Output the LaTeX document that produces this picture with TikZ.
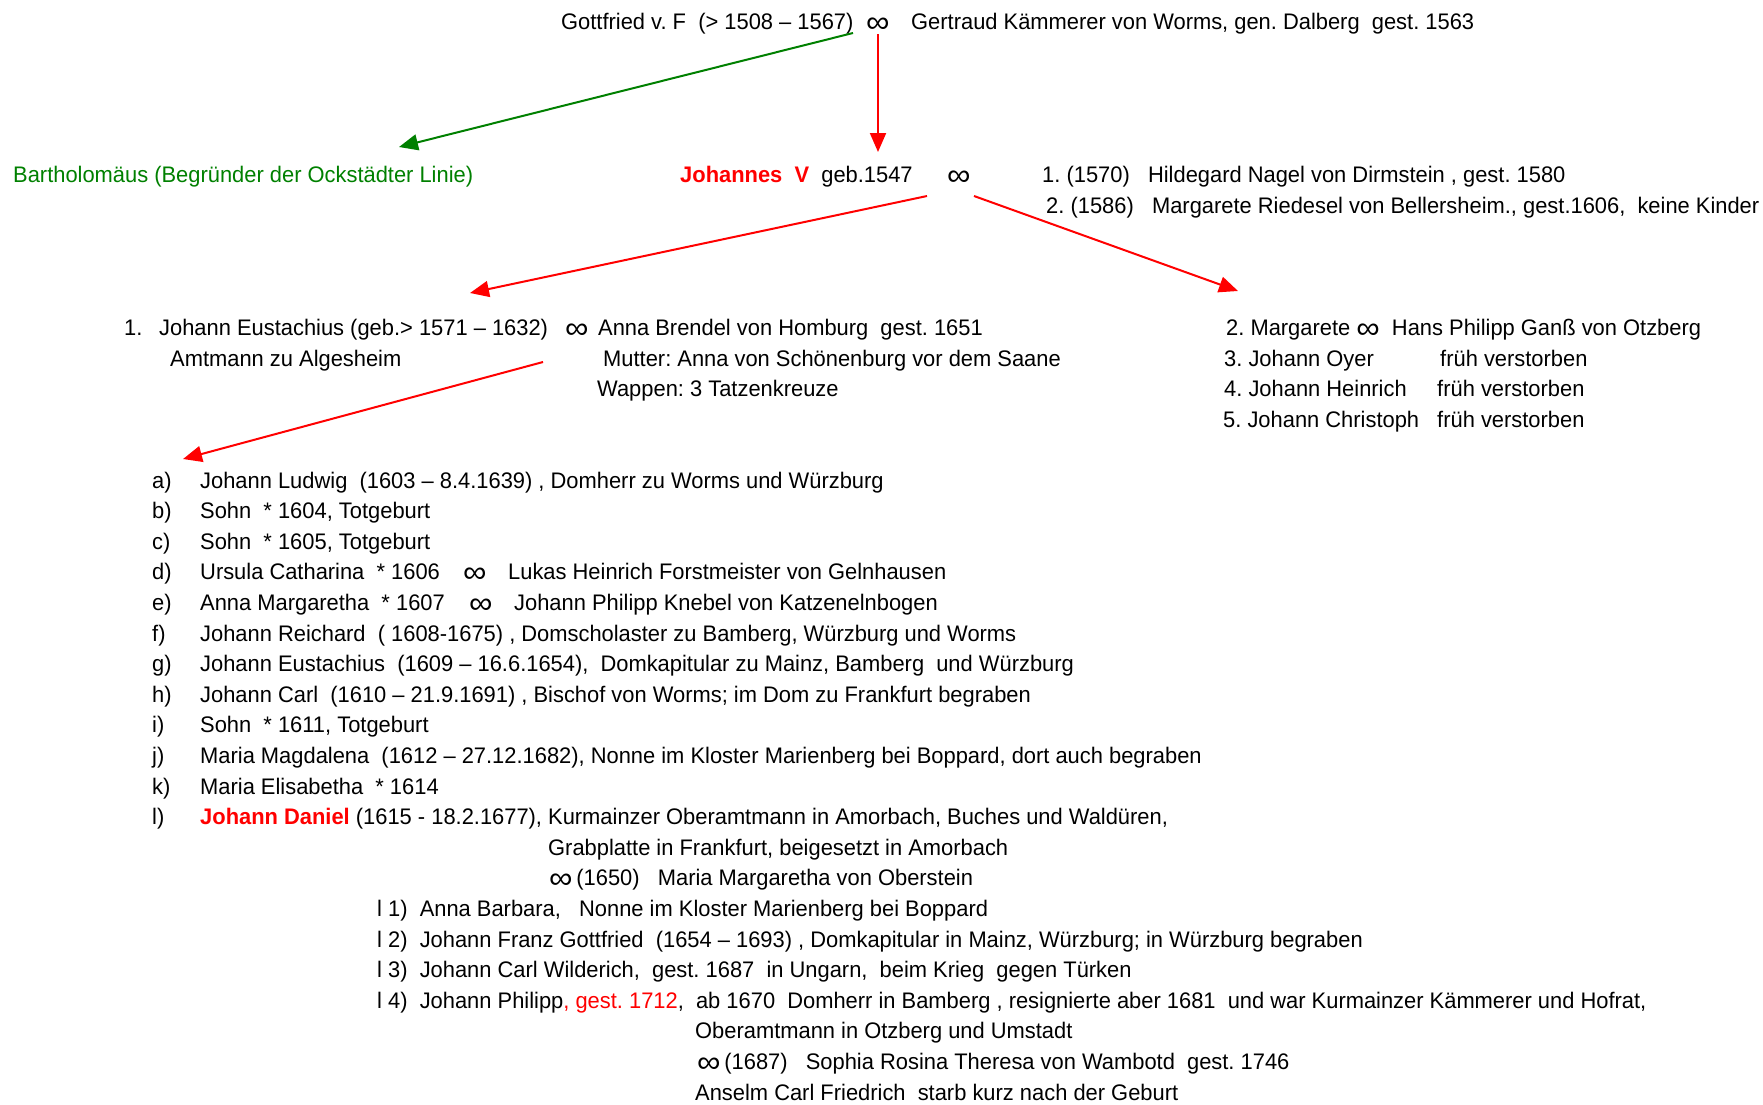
\documentclass[tikz,border=0pt]{standalone}
\usepackage{fontspec}
\usepackage{graphicx}
\setmainfont{Liberation Sans}[FakeStretch=0.973]
\usetikzlibrary{arrows.meta}
\definecolor{gr}{RGB}{0,128,0}
\definecolor{rd}{RGB}{255,0,0}
\newcommand{\inff}{\raisebox{-3pt}{\scalebox{1.5}[1.35]{∞}}}
\begin{document}
\frenchspacing
\begin{tikzpicture}[x=1pt,y=-1pt,
  txt/.style={anchor=base west,inner sep=0pt,font=\fontsize{22.5}{26}\selectfont},
  arr/.style={line width=2pt,-{Triangle[length=19pt,width=16pt]}},
  redarr/.style={arr,draw=rd,fill=rd},
  grarr/.style={arr,draw=gr,fill=gr}]
\useasboundingbox (0,0) rectangle (1763,1104);
% row 1
\node[txt] (g1) at (561,29) {Gottfried v. F\ \ (> 1508 – 1567)};
\node[txt] (g2) at (866,29) {\inff};
\node[txt] (g3) at (911,29) {Gertraud Kämmerer von Worms, gen. Dalberg\ \ gest. 1563};
% row 2
\node[txt,text=gr] (bart) at (13,182) {Bartholomäus (Begründer der Ockstädter Linie)};
\node[txt] (joh) at (680,182) {{\color{rd}\bfseries Johannes\ \ V}\ \ geb.1547};
\node[txt] (inf2) at (947,182) {\inff};
\node[txt] (w1) at (1042,182) {1. (1570)\ \ \ Hildegard Nagel von Dirmstein , gest. 1580};
\node[txt] (w2) at (1046,213) {2. (1586)\ \ \ Margarete Riedesel von Bellersheim., gest.1606,\ \ keine Kinder};
% row 3
\node[txt] (je1) at (124,335) {1.};
\node[txt] (je2) at (159,335) {Johann Eustachius (geb.> 1571 – 1632)};
\node[txt] (inf3) at (565,335) {\inff};
\node[txt] (ab) at (598,335) {Anna Brendel von Homburg\ \ gest. 1651};
\node[txt] (amt) at (170,366) {Amtmann zu Algesheim};
\node[txt] (mut) at (603,366) {Mutter: Anna von Schönenburg vor dem Saane};
\node[txt] (wap) at (597,396) {Wappen: 3 Tatzenkreuze};
\node[txt] (mg) at (1226,335) {2. Margarete\ \inff\ \ Hans Philipp Ganß von Otzberg};
\node[txt] (jo) at (1224,366) {3. Johann Oyer};
\node[txt] (jo2) at (1440,366) {früh verstorben};
\node[txt] (jh) at (1224,396) {4. Johann Heinrich};
\node[txt] (jh2) at (1437,396) {früh verstorben};
\node[txt] (jc) at (1223,427) {5. Johann Christoph};
\node[txt] (jc2) at (1437,427) {früh verstorben};
% children list
\node[txt] (la) at (152,488.0) {a)};
\node[txt] (ta) at (200,488.0) {Johann Ludwig\ \ (1603 – 8.4.1639) , Domherr zu Worms und Würzburg};
\node[txt] (lb) at (152,518.6) {b)};
\node[txt] (tb) at (200,518.6) {Sohn\ \ * 1604, Totgeburt};
\node[txt] (lc) at (152,549.2) {c)};
\node[txt] (tc) at (200,549.2) {Sohn\ \ * 1605, Totgeburt};
\node[txt] (ld) at (152,579.8) {d)};
\node[txt] (td) at (200,579.8) {Ursula Catharina\ \ * 1606};
\node[txt] (td2) at (463,579.8) {\inff};
\node[txt] (td3) at (508,579.8) {Lukas Heinrich Forstmeister von Gelnhausen};
\node[txt] (le) at (152,610.4) {e)};
\node[txt] (te) at (200,610.4) {Anna Margaretha\ \ * 1607};
\node[txt] (te2) at (469,610.4) {\inff};
\node[txt] (te3) at (514,610.4) {Johann Philipp Knebel von Katzenelnbogen};
\node[txt] (lf) at (152,641.0) {f)};
\node[txt] (tf) at (200,641.0) {Johann Reichard\ \ ( 1608-1675) , Domscholaster zu Bamberg, Würzburg und Worms};
\node[txt] (lg) at (152,671.6) {g)};
\node[txt] (tg) at (200,671.6) {Johann Eustachius\ \ (1609 – 16.6.1654),\ \ Domkapitular zu Mainz, Bamberg\ \ und Würzburg};
\node[txt] (lh) at (152,702.2) {h)};
\node[txt] (th) at (200,702.2) {Johann Carl\ \ (1610 – 21.9.1691) , Bischof von Worms; im Dom zu Frankfurt begraben};
\node[txt] (li) at (152,732.8) {i)};
\node[txt] (ti) at (200,732.8) {Sohn\ \ * 1611, Totgeburt};
\node[txt] (lj) at (152,763.4) {j)};
\node[txt] (tj) at (200,763.4) {Maria Magdalena\ \ (1612 – 27.12.1682), Nonne im Kloster Marienberg bei Boppard, dort auch begraben};
\node[txt] (lk) at (152,794.0) {k)};
\node[txt] (tk) at (200,794.0) {Maria Elisabetha\ \ * 1614};
\node[txt] (ll) at (152,824.6) {l)};
\node[txt] (tl) at (200,824.6) {{\color{rd}\bfseries Johann Daniel} (1615 - 18.2.1677), Kurmainzer Oberamtmann in Amorbach, Buches und Waldüren,};
\node[txt] (tl2) at (548,855.2) {Grabplatte in Frankfurt, beigesetzt in Amorbach};
\node[txt] (tl3) at (549,885.8) {\inff\,(1650)\ \ \ Maria Margaretha von Oberstein};
\node[txt] (l1) at (377,916.4) {l 1)\ \ Anna Barbara,\ \ \ Nonne im Kloster Marienberg bei Boppard};
\node[txt] (l2) at (377,947.0) {l 2)\ \ Johann Franz Gottfried\ \ (1654 – 1693) , Domkapitular in Mainz, Würzburg; in Würzburg begraben};
\node[txt] (l3) at (377,977.6) {l 3)\ \ Johann Carl Wilderich,\ \ gest. 1687\ \ in Ungarn,\ \ beim Krieg\ \ gegen Türken};
\node[txt] (l4) at (377,1008.2) {l 4)\ \ Johann Philipp{\color{rd}, gest. 1712},\ \ ab 1670\ \ Domherr in Bamberg , resignierte aber 1681\ \ und war Kurmainzer Kämmerer und Hofrat,};
\node[txt] (l4b) at (695,1038.8) {Oberamtmann in Otzberg und Umstadt};
\node[txt] (l4c) at (697,1069.4) {\inff\,(1687)\ \ \ Sophia Rosina Theresa von Wambotd\ \ gest. 1746};
\node[txt] (l4d) at (695,1100.0) {Anselm Carl Friedrich\ \ starb kurz nach der Geburt};
% connector end points
\coordinate (gs) at (853,33);
\coordinate (ge) at (399,147);
\coordinate (vs) at (878,34);
\coordinate (ve) at (878,152);
\coordinate (ls) at (927,196);
\coordinate (le2) at (470,293);
\coordinate (rs) at (974,196);
\coordinate (re) at (1238,291);
\coordinate (es) at (543,362);
\coordinate (ee) at (183,459);
\draw[grarr] (gs) -- (ge);
\draw[redarr] (vs) -- (ve);
\draw[redarr] (ls) -- (le2);
\draw[redarr] (rs) -- (re);
\draw[redarr] (es) -- (ee);
\end{tikzpicture}
\end{document}
